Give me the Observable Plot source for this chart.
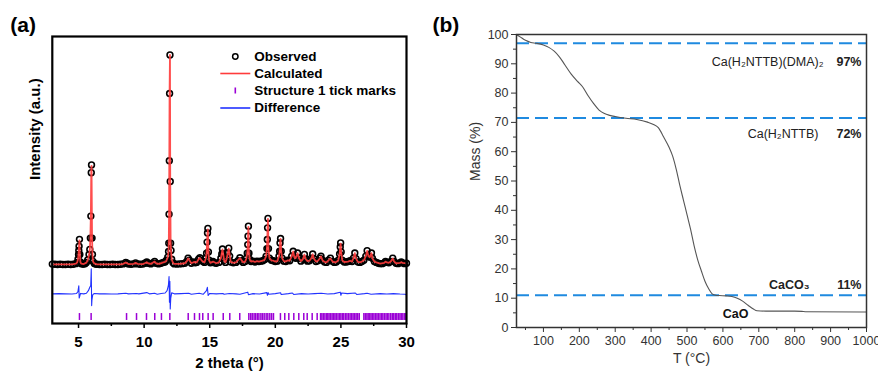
<!DOCTYPE html>
<html>
<head>
<meta charset="utf-8">
<script src="https://cdn.jsdelivr.net/npm/d3@7"></script>
<script src="https://cdn.jsdelivr.net/npm/@observablehq/plot@0.6"></script>
<style>
  html, body { margin: 0; padding: 0; background: #fff; }
  #wrap { position: relative; width: 878px; height: 372px; overflow: hidden; }
  #pa { position: absolute; left: 0; top: 0; }
  #pb { position: absolute; left: 420px; top: 0; }
</style>
</head>
<body>
<div id="wrap"><div id="pa"></div><div id="pb"></div></div>
<script>
// ---------- Panel (a): Rietveld refinement ----------
const observed = [
[3.0,2],[3.2,1],[3.4,0],[3.6,1],[3.8,0],[4.0,0],[4.2,1],[4.4,0],[4.6,1],[4.8,4],[4.9,10],[4.96,25],[5.0,48],[5.02,67],[5.04,87],[5.07,120],[5.1,48],[5.14,12],[5.2,4],[5.3,2],[5.4,2],[5.5,4],[5.6,10],[5.7,22],[5.8,48],[5.86,72],[5.9,126],[5.94,231],[5.97,438],[5.99,475],[6.03,126],[6.06,48],[6.1,15],[6.2,5],[6.3,2],[6.4,1],[6.6,0],[6.8,0],[7.0,1],[7.2,0],[7.4,0],[7.6,1],[7.8,0],[8.0,0],[8.2,1],[8.4,3],[8.6,10],[8.7,6],[8.8,2],[9.0,1],[9.2,3],[9.35,8],[9.5,3],[9.7,1],[9.9,2],[10.05,6],[10.2,12],[10.3,6],[10.5,3],[10.65,8],[10.8,15],[10.9,6],[11.1,3],[11.3,6],[11.45,10],[11.6,12],[11.7,20],[11.8,35],[11.86,62],[11.88,102],[11.9,240],[11.92,495],[11.94,816],[11.97,1000],[11.99,396],[12.02,102],[12.05,67],[12.1,25],[12.2,8],[12.3,3],[12.5,2],[12.7,3],[12.9,4],[13.1,6],[13.25,15],[13.35,30],[13.45,20],[13.6,6],[13.8,12],[13.9,8],[14.0,10],[14.15,25],[14.25,32],[14.4,18],[14.5,14],[14.6,10],[14.7,30],[14.76,54],[14.8,107],[14.83,150],[14.86,172],[14.9,60],[14.95,20],[15.05,8],[15.15,10],[15.25,14],[15.35,8],[15.5,6],[15.7,10],[15.85,30],[15.92,50],[15.97,74],[16.02,50],[16.1,20],[16.2,10],[16.3,30],[16.38,55],[16.45,78],[16.52,40],[16.6,12],[16.8,8],[17.0,10],[17.15,18],[17.3,32],[17.4,18],[17.55,10],[17.7,14],[17.8,30],[17.86,54],[17.9,95],[17.92,135],[17.95,183],[17.99,54],[18.05,24],[18.15,14],[18.3,16],[18.45,12],[18.6,16],[18.75,14],[18.9,16],[19.05,18],[19.2,24],[19.3,40],[19.36,76],[19.39,119],[19.41,175],[19.44,220],[19.48,76],[19.55,30],[19.7,20],[19.85,18],[20.0,14],[20.15,16],[20.28,40],[20.33,63],[20.36,103],[20.4,124],[20.45,63],[20.52,30],[20.65,16],[20.8,14],[20.95,20],[21.1,18],[21.25,40],[21.36,63],[21.45,35],[21.55,30],[21.7,55],[21.8,30],[21.95,16],[22.1,25],[22.22,48],[22.32,25],[22.45,16],[22.6,18],[22.75,30],[22.85,50],[22.95,28],[23.1,14],[23.25,18],[23.4,30],[23.48,40],[23.6,20],[23.75,12],[23.9,10],[24.05,20],[24.2,30],[24.35,15],[24.5,10],[24.65,12],[24.8,20],[24.9,50],[24.95,84],[24.98,103],[25.02,60],[25.1,20],[25.25,12],[25.4,12],[25.55,14],[25.7,18],[25.85,14],[25.95,30],[26.06,55],[26.15,28],[26.3,12],[26.45,10],[26.6,14],[26.75,20],[26.9,40],[27.0,66],[27.1,40],[27.2,35],[27.33,55],[27.4,30],[27.55,14],[27.7,10],[27.85,6],[28.0,4],[28.15,4],[28.3,8],[28.4,15],[28.5,10],[28.65,8],[28.8,14],[28.95,30],[29.05,15],[29.2,6],[29.35,4],[29.5,8],[29.6,12],[29.7,8],[29.85,4],[30.0,6]
];

const calculated = [
[3.0,1],[3.5,1],[4.0,1],[4.5,1],[4.8,4],[4.9,10],[4.96,26],[5.0,50],[5.04,90],[5.07,115],[5.1,50],[5.14,12],[5.2,4],[5.4,2],[5.6,9],[5.7,20],[5.8,45],[5.86,70],[5.9,120],[5.94,240],[5.97,440],[5.99,470],[6.03,130],[6.06,50],[6.1,15],[6.2,5],[6.4,1],[7.0,1],[7.6,1],[8.2,1],[8.4,3],[8.6,10],[8.8,2],[9.2,3],[9.35,8],[9.5,3],[9.9,2],[10.05,6],[10.2,11],[10.3,6],[10.5,3],[10.65,8],[10.8,14],[10.9,6],[11.1,3],[11.3,6],[11.45,10],[11.6,12],[11.7,19],[11.8,34],[11.86,62],[11.88,105],[11.9,245],[11.92,500],[11.94,820],[11.97,1000],[11.99,400],[12.02,105],[12.05,65],[12.1,25],[12.2,8],[12.3,3],[12.7,3],[13.1,6],[13.25,15],[13.35,29],[13.45,20],[13.6,6],[13.8,12],[14.0,10],[14.15,25],[14.25,31],[14.4,18],[14.6,10],[14.7,29],[14.76,52],[14.8,105],[14.83,148],[14.86,168],[14.9,60],[14.95,20],[15.05,8],[15.25,14],[15.5,6],[15.7,10],[15.85,30],[15.97,72],[16.1,20],[16.2,10],[16.3,30],[16.45,76],[16.6,12],[16.8,8],[17.0,10],[17.3,31],[17.55,10],[17.7,14],[17.8,30],[17.86,54],[17.9,95],[17.92,135],[17.95,180],[17.99,54],[18.05,24],[18.15,14],[18.3,16],[18.45,12],[18.6,16],[18.75,14],[18.9,16],[19.05,18],[19.2,24],[19.3,40],[19.36,76],[19.39,119],[19.41,175],[19.44,218],[19.48,76],[19.55,30],[19.7,20],[19.85,18],[20.0,14],[20.15,16],[20.28,40],[20.33,63],[20.36,103],[20.4,122],[20.45,63],[20.52,30],[20.65,16],[20.8,14],[20.95,20],[21.1,18],[21.25,40],[21.36,62],[21.45,35],[21.55,30],[21.7,54],[21.8,30],[21.95,16],[22.1,25],[22.22,47],[22.32,25],[22.45,16],[22.6,18],[22.75,30],[22.85,49],[22.95,28],[23.1,14],[23.25,18],[23.4,30],[23.48,39],[23.6,20],[23.75,12],[23.9,10],[24.05,20],[24.2,29],[24.35,15],[24.5,10],[24.65,12],[24.8,20],[24.9,50],[24.95,84],[24.98,100],[25.02,60],[25.1,20],[25.25,12],[25.55,14],[25.7,18],[25.85,14],[25.95,30],[26.06,54],[26.15,28],[26.3,12],[26.45,10],[26.6,14],[26.75,20],[26.9,40],[27.0,65],[27.1,40],[27.2,35],[27.33,54],[27.4,30],[27.55,14],[27.7,10],[28.0,4],[28.3,8],[28.4,14],[28.5,10],[28.65,8],[28.8,14],[28.95,29],[29.05,15],[29.2,6],[29.5,8],[29.6,11],[29.7,8],[30.0,5]
];

const difference = [
[3.0,0],[3.5,1],[4.0,0],[4.5,-1],[4.85,2],[4.95,10],[5.02,38],[5.05,-20],[5.1,-10],[5.15,2],[5.4,0],[5.6,3],[5.75,15],[5.85,30],[5.93,40],[5.97,120],[6.0,-56],[6.02,-30],[6.08,-5],[6.2,2],[6.6,0],[7.0,0],[7.5,-1],[8.0,0],[8.6,3],[8.8,0],[9.4,2],[9.6,0],[10.2,6],[10.4,0],[10.8,3],[11.0,-2],[11.3,2],[11.6,4],[11.75,15],[11.85,40],[11.9,82],[11.93,-40],[11.96,60],[11.99,-72],[12.03,-20],[12.1,5],[12.3,0],[12.8,1],[13.4,3],[13.6,-2],[14.2,3],[14.5,-2],[14.75,15],[14.82,31],[14.88,-8],[15.0,2],[15.5,0],[16.0,2],[16.1,-2],[16.5,2],[17.0,0],[17.3,-2],[17.9,8],[17.95,-4],[18.3,1],[18.8,-1],[19.35,6],[19.4,-7],[19.45,6],[19.5,-2],[20.0,1],[20.4,5],[20.45,-3],[21.0,1],[21.3,4],[21.4,-3],[22.0,1],[22.5,-1],[23.0,1],[23.5,3],[24.0,-1],[24.5,1],[24.95,8],[25.0,-7],[25.05,4],[25.5,1],[26.1,4],[26.2,-3],[26.8,1],[27.0,3],[27.3,-2],[28.0,1],[28.5,-1],[29.0,1],[29.5,-1],[29.9,-2],[30.0,-6]
];

const reflections = [5.07,5.96,8.66,9.42,10.18,10.81,11.32,11.96,13.36,13.84,14.22,14.47,14.88,15.26,16.03,16.53,17.29,17.98,18.12,18.24,18.38,18.5,18.63,18.75,18.9,19.02,19.15,19.3,19.43,19.58,19.72,19.86,20.39,20.72,21.03,21.41,21.79,22.17,22.43,22.81,23.19,23.45,23.55,23.66,23.78,23.9,24.0,24.1,24.22,24.33,24.45,24.55,24.66,24.78,24.9,25.0,25.12,25.22,25.35,25.46,25.58,25.7,25.82,25.93,26.05,26.16,26.28,26.4,26.75,26.86,26.98,27.08,27.2,27.3,27.42,27.52,27.64,27.75,27.86,27.98,28.1,28.2,28.32,28.44,28.55,28.66,28.8,28.92,29.03,29.15,29.26,29.38,29.5,29.6,29.72,29.84,29.95];

const xTicksA = [5, 10, 15, 20, 25, 30];
const xMinorA = [7.5, 12.5, 17.5, 22.5, 27.5];
const legendLabels = ["Observed", "Calculated", "Structure 1 tick marks", "Difference"];

// ---------- Panel (b): TGA ----------
const temperature = [25,35,50,65,80,100,115,130,145,160,178,195,210,225,240,255,270,285,300,330,360,390,405,420,435,450,460,470,480,490,500,510,520,530,540,550,560,570,580,590,610,625,640,655,670,685,695,720,800,820,830,1000];
const massPercent = [100,99.2,98.0,97.3,97.0,96.4,95.6,94.3,92.3,89.6,86.4,84.0,82.0,79.0,76.4,74.2,73.0,72.4,72.0,71.4,71.0,70.1,69.4,68.2,65.0,61.5,58.5,54.0,48.5,43.5,38.5,33.5,27.8,23.0,19.3,15.8,13.3,11.5,11.0,10.9,10.8,10.6,10.0,9.0,7.6,6.3,5.7,5.6,5.6,5.5,5.4,5.3];
const levels = [97, 71.5, 11];
const compoundLabels = ["Ca(H\u2082NTTB)(DMA)\u2082", "Ca(H\u2082NTTB)", "CaCO\u2083"];
const percentLabels = ["97%", "72%", "11%"];
const residueLabel = "CaO";
const xTicksB = [100, 200, 300, 400, 500, 600, 700, 800, 900, 1000];
const xMinorB = [50, 150, 250, 350, 450, 550, 650, 750, 850, 950];
const yTicksB = [0, 10, 20, 30, 40, 50, 60, 70, 80, 90, 100];
const yMinorB = [5, 15, 25, 35, 45, 55, 65, 75, 85, 95];

// ---------- Drawing ----------
const FONT = "'Liberation Sans', Arial, Helvetica, sans-serif";
const lineSym = {draw(ctx) { ctx.moveTo(-15, 0); ctx.lineTo(15, 0); }};
const tickSym = {draw(ctx) { ctx.moveTo(0, -3); ctx.lineTo(0, 3); }};
const DIFF_OFFSET = -140;

const legendSymbols = [
  Plot.dot([0], {frameAnchor: "top-left", dx: 183, dy: 20, r: 2.7, stroke: "black", strokeWidth: 1.5, fill: "none"}),
  Plot.dot([0], {frameAnchor: "top-left", dx: 183, dy: 37, symbol: lineSym, stroke: "#ff3b3b", strokeWidth: 1.6}),
  Plot.dot([0], {frameAnchor: "top-left", dx: 183, dy: 54, symbol: tickSym, stroke: "#9b00d6", strokeWidth: 1.6}),
  Plot.dot([0], {frameAnchor: "top-left", dx: 183, dy: 71.5, symbol: lineSym, stroke: "#2233ff", strokeWidth: 1.6})
];
const legendTexts = legendLabels.map((t, i) =>
  Plot.text([t], {frameAnchor: "top-left", dx: 202, dy: 20 + i * 17.2, text: d => d, textAnchor: "start", lineAnchor: "middle", fontSize: 13.5, fontWeight: "bold", fill: "black"})
);

const plotA = Plot.plot({
  width: 420, height: 372,
  marginLeft: 51.8, marginRight: 14, marginTop: 36, marginBottom: 49,
  x: {domain: [3, 30]},
  y: {domain: [-281.5, 1088], axis: null},
  style: {fontFamily: FONT, fontSize: "15px", fontWeight: "bold", color: "black", background: "white"},
  marks: [
    Plot.dot(observed, {x: d => d[0], y: d => d[1], r: 2.9, stroke: "black", strokeWidth: 1.6, fill: "none"}),
    Plot.line(calculated, {x: d => d[0], y: d => d[1], stroke: "#ff3b3b", strokeWidth: 1.8, strokeOpacity: 0.9}),
    Plot.line(difference, {x: d => d[0], y: d => d[1] + DIFF_OFFSET, stroke: "#2233ff", strokeWidth: 1.1}),
    Plot.ruleX(reflections, {x: d => d, y1: -234, y2: -267, stroke: "#9b00d6", strokeWidth: 1.5}),
    Plot.frame({stroke: "black", strokeWidth: 2.2}),
    Plot.axisX(xTicksA, {tickSize: 5, tickPadding: 8, strokeWidth: 1.5, fontSize: 15, fontWeight: "bold", label: null}),
    Plot.axisX(xMinorA, {tickSize: 3, strokeWidth: 1.5, tickFormat: () => "", label: null}),
    Plot.text(["2 theta (°)"], {frameAnchor: "bottom", dy: 40, text: d => d, lineAnchor: "middle", fontSize: 15, fontWeight: "bold"}),
    Plot.text(["Intensity (a.u.)"], {frameAnchor: "left", dx: -17, rotate: -90, text: d => d, lineAnchor: "middle", fontSize: 15, fontWeight: "bold"}),
    Plot.text(["(a)"], {frameAnchor: "top-left", dx: -42, dy: -11, text: d => d, textAnchor: "start", lineAnchor: "middle", fontSize: 21, fontWeight: "bold"}),
    ...legendSymbols,
    ...legendTexts
  ]
});
document.getElementById("pa").appendChild(plotA);

const blue = "#1f8ae0";
const labelDy = [18.5, 15.5, -10];
const labelDx = [-43, -48, -57];
const plotB = Plot.plot({
  width: 458, height: 372,
  marginLeft: 96, marginRight: 12, marginTop: 34, marginBottom: 45,
  x: {domain: [25, 1000]},
  y: {domain: [0, 100]},
  style: {fontFamily: FONT, fontSize: "12.5px", color: "#333", background: "white"},
  marks: [
    Plot.ruleY(levels, {y: d => d, stroke: blue, strokeWidth: 2, strokeDasharray: "13,6"}),
    Plot.line(massPercent, {x: temperature, y: massPercent, stroke: "#555", strokeWidth: 1.1, curve: "monotone-x"}),
    Plot.frame({stroke: "#333", strokeWidth: 1.5}),
    Plot.axisX(xTicksB, {tickSize: 5, tickPadding: 4, fontSize: 12.5, tickFormat: d => String(d), label: null}),
    Plot.axisX(xMinorB, {tickSize: 3, tickFormat: () => "", label: null}),
    Plot.axisY(yTicksB, {tickSize: 5, tickPadding: 3, fontSize: 12.5, label: null}),
    Plot.axisY(yMinorB, {tickSize: 3, tickFormat: () => "", label: null}),
    Plot.text(["T (°C)"], {frameAnchor: "bottom", dy: 31, text: d => d, lineAnchor: "middle", fontSize: 14}),
    Plot.text(["Mass (%)"], {frameAnchor: "left", dx: -41, rotate: -90, text: d => d, lineAnchor: "middle", fontSize: 14}),
    Plot.text(["(b)"], {frameAnchor: "top-left", dx: -84, dy: -9, text: d => d, textAnchor: "start", lineAnchor: "middle", fontSize: 21, fontWeight: "bold", fill: "black"}),
    ...levels.map((lv, i) => Plot.text([lv], {y: d => d, frameAnchor: "right", dx: labelDx[i], dy: labelDy[i], text: () => compoundLabels[i], textAnchor: "end", lineAnchor: "middle", fontSize: 12.5, fontWeight: i === 2 ? "bold" : "normal", fill: "#222"})),
    ...levels.map((lv, i) => Plot.text([lv], {y: d => d, frameAnchor: "right", dx: -5, dy: labelDy[i], text: () => percentLabels[i], textAnchor: "end", lineAnchor: "middle", fontSize: 12.5, fontWeight: "bold", fill: "#222"})),
    Plot.text([residueLabel], {frameAnchor: "bottom", dx: 44, dy: -14, text: d => d, lineAnchor: "middle", fontSize: 12.5, fontWeight: "bold", fill: "#111"})
  ]
});
document.getElementById("pb").appendChild(plotB);
</script>
</body>
</html>
